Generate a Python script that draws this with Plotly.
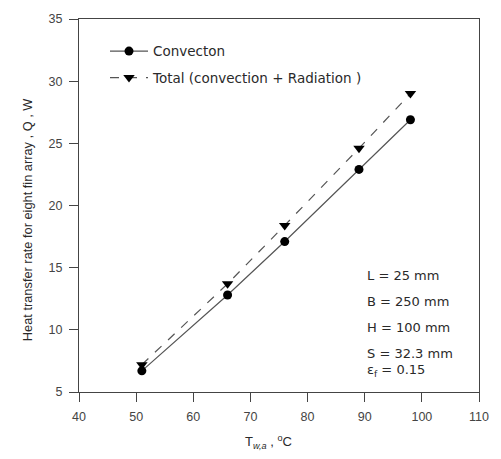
import plotly.graph_objects as go

# Wall temperature of the fin array (deg C)
temperature = [51, 66, 76, 89, 98]
# Heat transfer rate, W
q_convection = [6.7, 12.8, 17.1, 22.9, 26.9]
q_total = [7.2, 13.7, 18.4, 24.6, 29.0]

x_ticks = [40, 50, 60, 70, 80, 90, 100, 110]
y_ticks = [5, 10, 15, 20, 25, 30, 35]

params = ["L = 25 mm", "B = 250 mm", "H = 100 mm", "S = 32.3 mm", "ε<sub>f</sub> = 0.15"]
param_y = [14.4, 12.3, 10.15, 8.1, 6.75]

font = "Liberation Sans, Arial, sans-serif"
wide = "DejaVu Sans, sans-serif"
ink = "#2a2a2a"

fig = go.Figure()
fig.add_trace(go.Scatter(
    x=temperature, y=q_convection, mode="lines+markers", name="Convecton",
    legendgroup="a",
    line=dict(color="#555555", width=1.2),
    marker=dict(symbol="circle", size=9, color="black"),
))
fig.add_trace(go.Scatter(
    x=temperature, y=q_total, mode="lines+markers",
    name="Total (convection + Radiation )", legendgroup="b",
    line=dict(color="#555555", width=1.2, dash="dash"),
    marker=dict(symbol="triangle-down", size=10, color="black"),
))

for text, yv in zip(params, param_y):
    fig.add_annotation(x=90.0, y=yv, text=text, showarrow=False,
                       xanchor="left", yanchor="middle",
                       font=dict(family=wide, size=13, color=ink))

# axis titles placed in paper pixels
fig.add_annotation(xref="paper", yref="paper", x=(270 - 79) / 403, y=(392 - 443) / 379,
                   text="T<sub><i>w,a</i></sub> , <sup>o</sup>C", showarrow=False,
                   xanchor="center", yanchor="middle",
                   font=dict(family=font, size=13, color=ink))
fig.add_annotation(xref="paper", yref="paper", x=(27 - 79) / 403, y=(392 - 217) / 379,
                   text="Heat transfer rate for eight fin array , Q , W", showarrow=False,
                   textangle=-90, xanchor="center", yanchor="middle",
                   font=dict(family=font, size=12.8, color=ink))

axis_common = dict(
    showgrid=False, zeroline=False, showline=True, linecolor="#444444",
    linewidth=1.3, mirror=True, ticks="outside", ticklen=9, tickwidth=1.3,
    tickcolor="#444444", tickfont=dict(family=font, size=12.5, color="#444444"),
    ticklabelstandoff=4,
)

fig.update_layout(
    width=501, height=459,
    margin=dict(l=79, r=19, t=13, b=67),
    paper_bgcolor="white", plot_bgcolor="white",
    xaxis=dict(range=[40, 110], tickvals=x_ticks, **axis_common),
    yaxis=dict(range=[5, 35], tickvals=y_ticks, **axis_common),
    legend=dict(x=0.065, y=0.955, xanchor="left", yanchor="top",
                bgcolor="rgba(0,0,0,0)", font=dict(family=wide, size=13.5, color=ink),
                tracegroupgap=6, itemwidth=38),
    showlegend=True,
)

fig.write_html("out.html")
